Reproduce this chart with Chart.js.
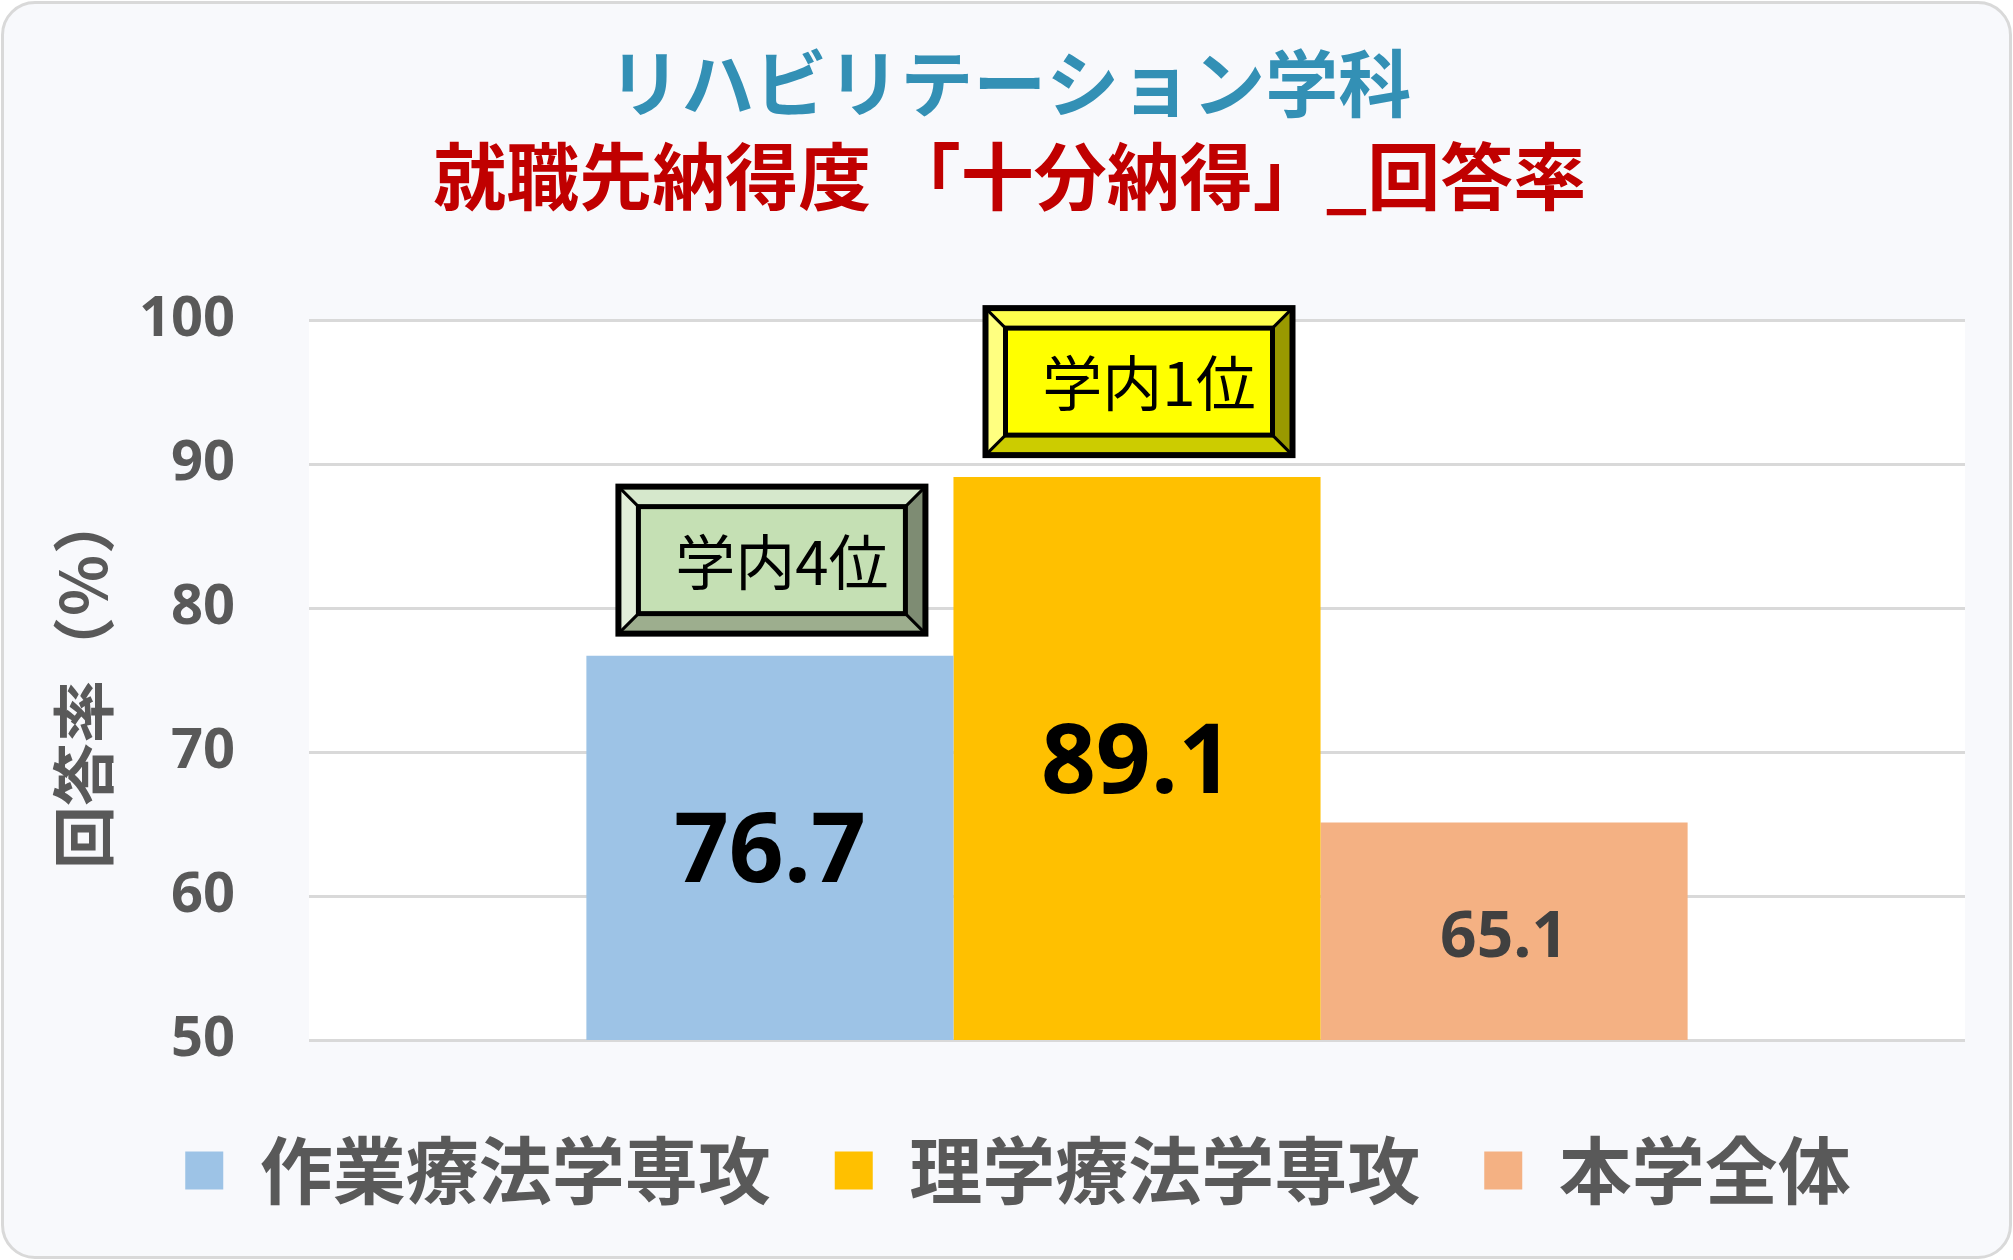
<!DOCTYPE html>
<html lang="ja">
<head>
<meta charset="utf-8">
<title>リハビリテーション学科 就職先納得度</title>
<script src="https://cdn.jsdelivr.net/npm/chart.js@4.4.1/dist/chart.umd.min.js"></script>
<style>
  html, body { margin: 0; padding: 0; background: #ffffff; }
  #wrap { position: relative; width: 2013px; height: 1260px; }
  #card {
    position: absolute; left: 1px; top: 1px; right: 1px; bottom: 1px;
    border: 3px solid #d9d9d9; border-radius: 34px; background: #f8f9fc;
  }
  #chart { position: absolute; left: 0; top: 0; }
</style>
</head>
<body>
<div id="wrap">
  <div id="card"></div>
  <canvas id="chart" width="2013" height="1260"></canvas>
</div>
<script>
// データ
const categories = [''];
const seriesNames = ['作業療法学専攻', '理学療法学専攻', '本学全体'];
const rateOT = [76.7];
const ratePT = [89.1];
const rateAll = [65.1];
const rankLabels = ['学内4位', '学内1位', null];
const yMin = 50;
const yMax = 100;
const yStep = 10;

const JP = "'Noto Sans CJK JP', 'Noto Sans', sans-serif";
const NUM = "'Open Sans', 'Noto Sans', sans-serif";

// 色
const COLORS = ['#9dc3e6', '#ffc000', '#f4b183'];
const GRAY = '#595959';

// プロット領域の背景（白）
const plotBg = {
  id: 'plotBg',
  beforeDraw(chart) {
    const { ctx, chartArea: a } = chart;
    ctx.save();
    ctx.fillStyle = '#ffffff';
    ctx.fillRect(a.left, a.top, a.right - a.left, a.bottom - a.top);
    ctx.restore();
  }
};

// 棒の中央に値ラベル
const valueLabels = {
  id: 'valueLabels',
  afterDatasetsDraw(chart, args, opts) {
    const { ctx, chartArea } = chart;
    chart.data.datasets.forEach((ds, i) => {
      const st = opts.styles[i];
      chart.getDatasetMeta(i).data.forEach((el, j) => {
        const base = Math.min(el.base, chartArea.bottom);
        ctx.save();
        ctx.font = `bold ${st.size}px ${NUM}`;
        ctx.fillStyle = st.color;
        ctx.textAlign = 'center';
        ctx.textBaseline = 'middle';
        ctx.fillText(ds.data[j].toFixed(1), el.x, (el.y + base) / 2 + opts.dy);
        ctx.restore();
      });
    });
  }
};

// 「学内○位」の立体ボックス
const rankBoxes = {
  id: 'rankBoxes',
  afterDatasetsDraw(chart, args, opts) {
    const { ctx } = chart;
    rankLabels.forEach((text, i) => {
      if (!text) return;
      const el = chart.getDatasetMeta(i).data[0];
      const pal = opts.palettes[i];
      const w = opts.width, h = opts.height, b = opts.bevel;
      const x0 = el.x - w / 2 + opts.dx;
      const y1 = el.y - opts.gap;
      const y0 = y1 - h;
      const x1 = x0 + w;

      ctx.save();
      const poly = (pts, color) => {
        ctx.beginPath();
        ctx.moveTo(pts[0][0], pts[0][1]);
        pts.slice(1).forEach(p => ctx.lineTo(p[0], p[1]));
        ctx.closePath();
        ctx.fillStyle = color;
        ctx.fill();
      };
      poly([[x0, y0], [x1, y0], [x1, y1], [x0, y1]], pal.face);
      poly([[x0, y0], [x1, y0], [x1 - b, y0 + b], [x0 + b, y0 + b]], pal.top);
      poly([[x0, y1], [x1, y1], [x1 - b, y1 - b], [x0 + b, y1 - b]], pal.bottom);
      poly([[x0, y0], [x0 + b, y0 + b], [x0 + b, y1 - b], [x0, y1]], pal.left);
      poly([[x1, y0], [x1 - b, y0 + b], [x1 - b, y1 - b], [x1, y1]], pal.right);

      ctx.strokeStyle = '#000000';
      ctx.lineWidth = 3;
      ctx.beginPath();
      ctx.moveTo(x0, y0); ctx.lineTo(x0 + b, y0 + b);
      ctx.moveTo(x1, y0); ctx.lineTo(x1 - b, y0 + b);
      ctx.moveTo(x0, y1); ctx.lineTo(x0 + b, y1 - b);
      ctx.moveTo(x1, y1); ctx.lineTo(x1 - b, y1 - b);
      ctx.stroke();
      ctx.lineWidth = 5;
      ctx.strokeRect(x0 + b, y0 + b, w - 2 * b, h - 2 * b);
      ctx.lineWidth = 6;
      ctx.strokeRect(x0, y0, w, h);

      ctx.font = `${opts.fontSize}px ${JP}`;
      ctx.fillStyle = '#000000';
      ctx.textAlign = 'center';
      ctx.textBaseline = 'middle';
      ctx.fillText(text, (x0 + x1) / 2 + opts.textDx, (y0 + y1) / 2 + 2);
      ctx.restore();
    });
  }
};

new Chart(document.getElementById('chart'), {
  type: 'bar',
  data: {
    labels: categories,
    datasets: [
      { label: seriesNames[0], data: rateOT, backgroundColor: COLORS[0] },
      { label: seriesNames[1], data: ratePT, backgroundColor: COLORS[1] },
      { label: seriesNames[2], data: rateAll, backgroundColor: COLORS[2] }
    ]
  },
  options: {
    responsive: false,
    animation: false,
    devicePixelRatio: 1,
    events: [],
    layout: { padding: { top: 10, right: 48, bottom: 43, left: 71 } },
    datasets: {
      bar: { barPercentage: 1.0, categoryPercentage: 0.665, borderWidth: 0 }
    },
    plugins: {
      title: {
        display: true,
        text: 'リハビリテーション学科 ',
        color: '#3390b5',
        font: { family: JP, size: 73, weight: 'bold', lineHeight: 1.2 },
        padding: { top: 29, bottom: 0 }
      },
      subtitle: {
        display: true,
        text: '就職先納得度 「十分納得」_回答率 ',
        color: '#c00000',
        font: { family: JP, size: 73, weight: 'bold', lineHeight: 1.2 },
        padding: { top: 6, bottom: 100 }
      },
      legend: {
        position: 'bottom',
        title: { display: true, text: ' ', font: { size: 10 }, padding: { top: 9, bottom: 9 } },
        labels: {
          boxWidth: 38,
          boxHeight: 38,
          padding: 64,
          color: GRAY,
          font: { family: JP, size: 73, weight: 'bold' }
        }
      },
      tooltip: { enabled: false },
      valueLabels: {
        dy: 7,
        styles: [
          { size: 96, color: '#000000' },
          { size: 96, color: '#000000' },
          { size: 64, color: '#404040' }
        ]
      },
      rankBoxes: {
        width: 307, height: 147, bevel: 20, gap: 22, dx: 2,
        fontSize: 60, textDx: 10,
        palettes: [
          { face: '#c5e0b4', top: '#d6e8cc', bottom: '#9dae8e', left: '#e2efd9', right: '#7e8c73' },
          { face: '#ffff00', top: '#ffff4d', bottom: '#cccc00', left: '#ffff80', right: '#999900' }
        ]
      }
    },
    scales: {
      x: { display: false },
      y: {
        min: yMin,
        max: yMax,
        afterFit(scale) { scale.width = 238; },
        ticks: {
          stepSize: yStep,
          padding: 74,
          color: GRAY,
          font: { family: NUM, size: 56, weight: 'bold' }
        },
        grid: { color: '#d9d9d9', lineWidth: 3, drawTicks: false },
        border: { display: false },
        title: {
          display: true,
          text: '回答率（％）',
          color: GRAY,
          font: { family: JP, size: 63, weight: 'bold', lineHeight: 0.37 },
          padding: { top: 0, bottom: 0 }
        }
      }
    }
  },
  plugins: [plotBg, valueLabels, rankBoxes]
});
</script>
</body>
</html>
